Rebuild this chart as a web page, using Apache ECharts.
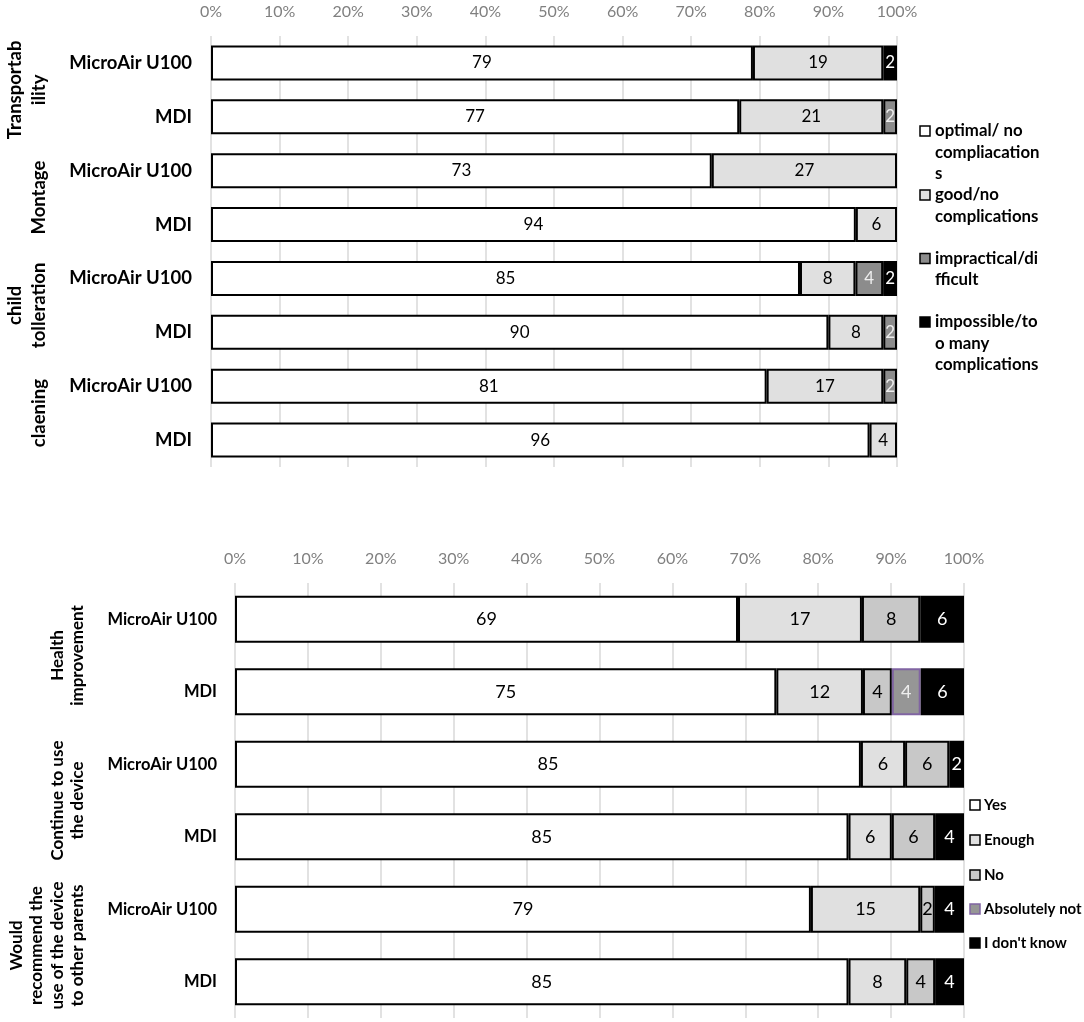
<!DOCTYPE html>
<html><head><meta charset="utf-8">
<script src="https://cdn.jsdelivr.net/npm/echarts@6/dist/echarts.min.js"></script>
<style>html,body{margin:0;padding:0;background:#fff}#c{width:1084px;height:1022px}</style>
</head><body><div id="c"></div>
<script>
// ---------- DATA ----------
const topDevices = ['MicroAir U100','MDI','MicroAir U100','MDI','MicroAir U100','MDI','MicroAir U100','MDI'];
const topGroups = ['Transportab\nility','Montage','child\ntolleration','claening'];
const topSeriesNames = ['optimal/ no compliacations','good/no complications','impractical/difficult','impossible/too many complications'];
const topLegendLabels = ['optimal/ no\ncompliacation\ns','good/no\ncomplications','impractical/di\nfficult','impossible/to\no many\ncomplications'];
const topOptimal     = [79,77,73,94,85,90,81,96];
const topGood        = [19,21,27, 6, 8, 8,17, 4];
const topImpractical = [ 0, 2, 0, 0, 4, 2, 2, 0];
const topImpossible  = [ 2, 0, 0, 0, 2, 0, 0, 0];

const botDevices = ['MicroAir U100','MDI','MicroAir U100','MDI','MicroAir U100','MDI'];
const botGroups = ['Health\nimprovement','Continue to use\nthe device','Would\nrecommend the\nuse of the device\nto other parents'];
const botSeriesNames = ['Yes','Enough','No','Absolutely not',"I don't know"];
const botYes       = [69,75,85,85,79,85];
const botEnough    = [17,12, 6, 6,15, 8];
const botNo        = [ 8, 4, 6, 6, 2, 4];
const botAbsNot    = [ 0, 4, 0, 0, 0, 0];
const botDontKnow  = [ 6, 6, 2, 4, 4, 4];

const axisMin = 0, axisMax = 100, axisStep = 10;

// ---------- STYLE ----------
const FONT = 'Lato';
const topFill = ['#ffffff','#e0e0e0','#8c8c8c','#000000'];
const topLabelColor = ['#000','#000','#eeeeee','#ffffff'];
const topBorder = ['#000','#000','#000','#000'];
const botFill = ['#ffffff','#e0e0e0','#c8c8c8','#969696','#000000'];
const botLabelColor = ['#000','#000','#000','#eeeeee','#ffffff'];
const botBorder = ['#000','#000','#000','#8064a2','#000'];

function buildSeries(arrs, names, fills, labelColors, borders, axisIdx, stack, fs) {
  const n = arrs[0].length;
  const totals = [];
  for (let i = 0; i < n; i++) totals.push(arrs.reduce((s, a) => s + a[i], 0));
  return arrs.map((a, k) => ({
    type: 'bar', name: names[k], stack: stack,
    xAxisIndex: axisIdx, yAxisIndex: axisIdx,
    barCategoryGap: '35%',
    data: a.map((v, i) => v > 0 ? { value: v / totals[i] * 100, raw: v } : '-'),
    itemStyle: { color: fills[k], borderColor: borders[k], borderWidth: 2 },
    label: {
      show: true, position: 'inside', color: labelColors[k],
      fontFamily: FONT, fontSize: fs,
      formatter: p => (p.data && p.data.raw) ? String(p.data.raw) : ''
    },
    emphasis: { disabled: true },
    animation: false
  }));
}

function xAxisCfg(gi) {
  return {
    type: 'value', gridIndex: gi, position: 'top', min: axisMin, max: axisMax, interval: axisStep,
    axisLine: { show: false }, axisTick: { show: false },
    axisLabel: { formatter: '{value}%', color: '#808080', fontFamily: FONT, fontSize: 16, margin: 16 },
    splitLine: { show: true, lineStyle: { color: '#d9d9d9', width: 1.5 } }
  };
}
function yAxisCfg(gi, data, fs, margin) {
  return {
    type: 'category', gridIndex: gi, data: data, inverse: true,
    axisLine: { show: false }, axisTick: { show: false },
    axisLabel: { color: '#000', fontWeight: 'bold', fontFamily: FONT, fontSize: fs, margin: margin }
  };
}

const chart = echarts.init(document.getElementById('c'), null, { renderer: 'canvas' });
chart.setOption({
  backgroundColor: '#fff',
  animation: false,
  grid: [
    { left: 211, top: 36, width: 686, height: 431 },
    { left: 235, top: 583, width: 729, height: 435 }
  ],
  xAxis: [xAxisCfg(0), xAxisCfg(1)],
  yAxis: [yAxisCfg(0, topDevices, 18.5, 19), yAxisCfg(1, botDevices, 16.5, 18)],
  series: [
    ...buildSeries([topOptimal, topGood, topImpractical, topImpossible], topSeriesNames, topFill, topLabelColor, topBorder, 0, 'top', 17),
    ...buildSeries([botYes, botEnough, botNo, botAbsNot, botDontKnow], botSeriesNames, botFill, botLabelColor, botBorder, 1, 'bot', 18)
  ]
});

// ---------- group labels & legends (graphic) ----------
const graphics = [];
function groupLabels(groups, axisIdx, rightX, fs, lh) {
  groups.forEach((g, i) => {
    const y1 = chart.convertToPixel({ yAxisIndex: axisIdx }, i * 2);
    const y2 = chart.convertToPixel({ yAxisIndex: axisIdx }, i * 2 + 1);
    graphics.push({
      type: 'text', x: rightX, y: (y1 + y2) / 2, rotation: Math.PI / 2, silent: true,
      style: { text: g, fontFamily: FONT, fontWeight: 'bold', fontSize: fs, lineHeight: lh,
               align: 'center', verticalAlign: 'bottom', fill: '#000' }
    });
  });
}
groupLabels(topGroups, 0, 51, 18.5, 24);
groupLabels(botGroups, 1, 88, 17, 20.5);

function legend(labels, fills, borders, iconX, textX, ys, fs, lh) {
  labels.forEach((t, i) => {
    graphics.push({
      type: 'rect', silent: true,
      shape: { x: iconX, y: ys[i] - 5, width: 10, height: 10 },
      style: { fill: fills[i], stroke: borders[i], lineWidth: 1.5 }
    });
    graphics.push({
      type: 'text', silent: true, x: textX, y: ys[i] - lh / 2,
      style: { text: t, fontFamily: FONT, fontWeight: 'bold', fontSize: fs, lineHeight: lh,
               align: 'left', verticalAlign: 'top', fill: '#000' }
    });
  });
}
legend(topLegendLabels, topFill, topBorder, 920, 935, [131, 195, 258.5, 322], 16.8, 21.5);
legend(botSeriesNames, botFill, botBorder, 970, 984, [805, 840, 875, 909, 943], 15, 20);

chart.setOption({ graphic: graphics });
</script>
</body></html>
